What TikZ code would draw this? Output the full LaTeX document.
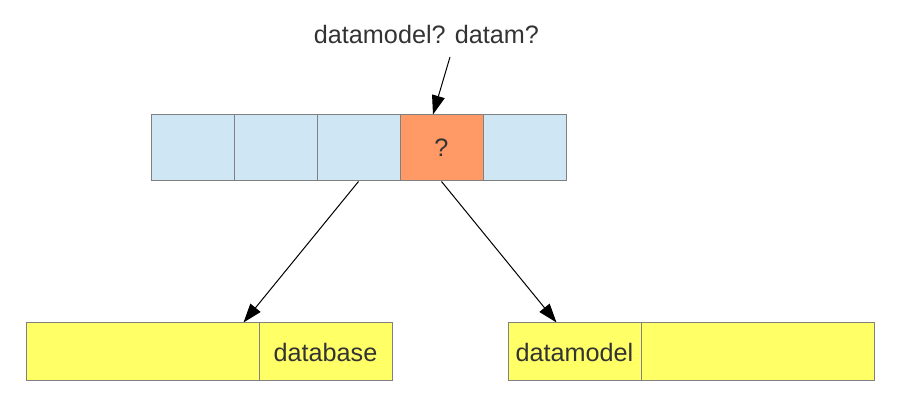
\documentclass[tikz,border=0pt]{standalone}
\usepackage{fontspec}
\setmainfont{Liberation Sans}
\usetikzlibrary{arrows.meta}
\definecolor{cellblue}{HTML}{CFE7F5}
\definecolor{qorange}{HTML}{FF9966}
\definecolor{boxyellow}{HTML}{FFFF66}
\definecolor{edgegray}{HTML}{808080}
\definecolor{txtgray}{HTML}{333333}

\begin{document}
\begin{tikzpicture}[x=0.5pt,y=-0.5pt,font=\fontsize{12.6}{15}\selectfont,
  cell/.style={draw=edgegray,fill=cellblue,line width=0.5pt,inner sep=0pt,minimum width=41.5pt,minimum height=33pt,text=txtgray},
  part/.style={draw=edgegray,fill=boxyellow,line width=0.5pt,inner sep=0pt,minimum height=29pt,text=txtgray},
  arr/.style={line width=0.5pt,-{Triangle[length=9.5pt,width=6.5pt]}}]
\useasboundingbox (0,0) rectangle (911,405);

\foreach \i/\x in {1/192.5,2/275.5,3/358.5,5/524.5}
  \node[cell] (c\i) at (\x,148) {};
\node[cell,fill=qorange] (c4) at (441.5,148) {?};

\node[part,minimum width=116.5pt] (lpart) at (142.5,352) {};
\node[part,minimum width=66.5pt] (ltext) at (325.5,352) {database};
\node[part,minimum width=66.5pt] (rtext) at (574.5,352) {datamodel};
\node[part,minimum width=116.5pt] (rpart) at (757.5,352) {};

\node[text=txtgray] (ask) at (426.5,34) {datamodel? datam?};
\coordinate (askend) at (450,57);

\draw[arr] (askend) -- ([xshift=-4.25pt]c4.north);
\draw[arr] (c3.south) -- ([xshift=-8pt]lpart.north east);
\draw[arr] (c4.south) -- ([xshift=24.5pt]rtext.north west);
\end{tikzpicture}
\end{document}
